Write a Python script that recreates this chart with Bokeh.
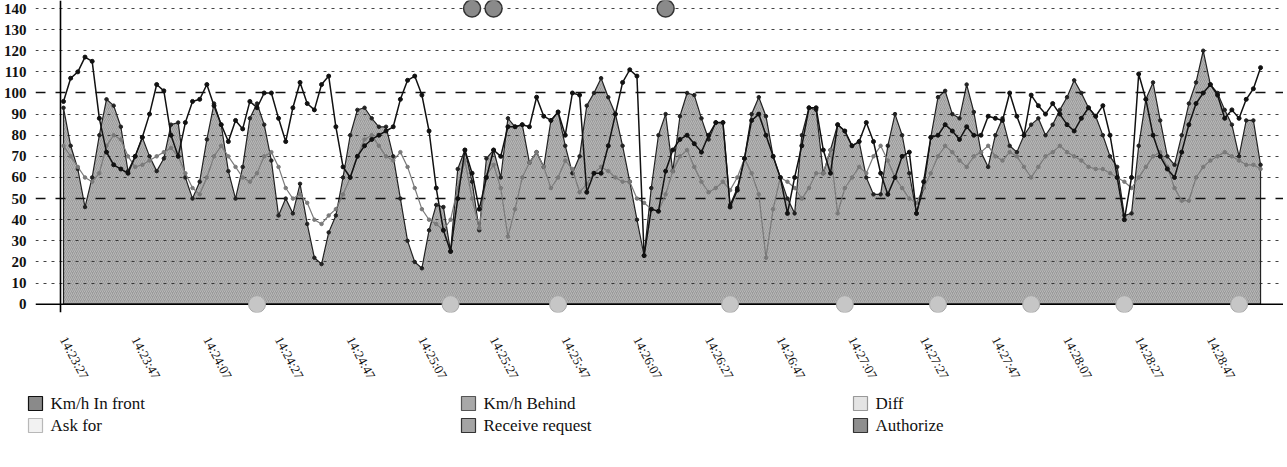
import numpy as np
from bokeh.plotting import figure
from bokeh.models import Range1d, FixedTicker, Span, Grid
from bokeh.layouts import column, row
from bokeh.embed import file_html
from bokeh.resources import INLINE
from bokeh.core.properties import value

# ---------------- data (one sample every 2 s) ----------------
time_labels = ["14:23:27", "14:23:47", "14:24:07", "14:24:27", "14:24:47", "14:25:07",
               "14:25:27", "14:25:47", "14:26:07", "14:26:27", "14:26:47", "14:27:07",
               "14:27:27", "14:27:47", "14:28:07", "14:28:27", "14:28:47"]
label_every = 10

km_front = [93, 75, 64, 46, 60, 80, 97, 94, 84, 63,
            70, 79, 70, 63, 69, 85, 86, 60, 50, 58,
            78, 95, 85, 63, 50, 65, 88, 95, 85, 68,
            42, 50, 43, 57, 38, 22, 19, 34, 42, 60,
            80, 92, 93, 88, 84, 84, 70, 50, 30, 20,
            17, 35, 47, 46, 25, 64, 73, 58, 35, 69,
            73, 60, 88, 84, 85, 67, 72, 65, 87, 91,
            75, 62, 70, 94, 100, 107, 98, 90, 75, 58,
            40, 23, 55, 80, 90, 63, 89, 100, 99, 88,
            78, 86, 86, 47, 55, 69, 90, 98, 89, 70,
            60, 50, 43, 80, 93, 92, 62, 73, 85, 82,
            75, 77, 60, 52, 52, 75, 90, 80, 62, 43,
            55, 79, 98, 101, 90, 88, 104, 91, 72, 65,
            80, 88, 75, 72, 80, 85, 88, 80, 85, 92,
            98, 106, 100, 93, 89, 80, 70, 65, 42, 43,
            75, 97, 105, 87, 70, 66, 80, 95, 105, 120,
            104, 100, 92, 85, 70, 87, 87, 66]

km_behind = [96, 107, 110, 117, 115, 88, 72, 66, 64, 62,
             70, 79, 90, 104, 101, 80, 70, 86, 96, 97,
             104, 94, 85, 77, 87, 83, 96, 93, 100, 100,
             88, 77, 93, 105, 95, 92, 104, 108, 84, 65,
             60, 70, 75, 78, 80, 82, 84, 97, 106, 108,
             99, 82, 55, 35, 25, 50, 73, 62, 45, 60,
             73, 70, 84, 84, 85, 84, 98, 89, 87, 91,
             80, 100, 99, 53, 62, 62, 75, 90, 105, 111,
             108, 23, 45, 44, 63, 73, 78, 80, 76, 72,
             80, 86, 86, 46, 54, 69, 87, 90, 80, 70,
             60, 43, 60, 75, 93, 93, 73, 62, 85, 82,
             75, 77, 86, 77, 62, 52, 60, 70, 72, 43,
             58, 79, 80, 85, 82, 78, 84, 80, 80, 89,
             88, 87, 100, 89, 80, 99, 94, 90, 95, 90,
             85, 82, 88, 93, 89, 94, 80, 60, 40, 60,
             109, 97, 80, 70, 64, 60, 72, 85, 95, 100,
             104, 99, 88, 92, 88, 97, 102, 112]

diff = [75, 70, 65, 60, 58, 62, 75, 80, 78, 70,
        65, 66, 68, 70, 72, 74, 70, 62, 55, 52,
        60, 70, 75, 70, 65, 60, 58, 62, 70, 72,
        65, 55, 50, 52, 48, 40, 38, 42, 45, 52,
        60, 70, 78, 80, 75, 70, 68, 72, 65, 55,
        45, 40, 38, 35, 40, 55, 68, 50, 36, 61,
        66, 55, 32, 45, 60, 67, 72, 65, 55, 60,
        68, 64, 53, 57, 62, 65, 63, 60, 58, 58,
        50, 48, 45, 44, 52, 63, 70, 73, 65, 58,
        53, 55, 58, 54, 60, 69, 62, 52, 22, 45,
        60, 58, 55, 50, 55, 62, 62, 73, 43, 55,
        60, 65, 62, 70, 75, 68, 60, 55, 50, 48,
        55, 62, 70, 75, 72, 68, 65, 70, 72, 75,
        70, 68, 72, 70, 65, 60, 65, 70, 72, 75,
        72, 70, 68, 65, 64, 64, 62, 60, 58, 55,
        60, 65, 70, 72, 65, 55, 49, 49, 60, 65,
        68, 70, 72, 70, 68, 66, 66, 64]

ask_for_at = [27, 54, 69, 93, 109, 122, 135, 148, 164]
ask_for_level = 0
authorize_at = [57, 60, 84]
authorize_level = 140

y_ticks = list(range(0, 141, 10))

legend_names = ["Km/h In front", "Km/h Behind", "Diff",
                "Ask for", "Receive request", "Authorize"]
legend_fill = ["#8a8a8a", "#a8a8a8", "#e4e4e4", "#f2f2f2", "#a4a4a4", "#8e8e8e"]
legend_line = ["#111111", "#555555", "#999999", "#b8b8b8", "#333333", "#333333"]

# ---------------- main chart ----------------
SERIF = "Liberation Serif"
n = len(km_front)
idx = list(range(n))

px_per_pt = 7.168
frame_w, frame_h = 1248, 312
x_start = -28 / px_per_pt
x_end = x_start + frame_w / px_per_pt
px_per_unit = (311.7 - 16) / 140
y_end = 140 + 8 / px_per_unit
y_start = -(320 - 311.7) / px_per_unit
axis_x = -3 / px_per_pt

p = figure(frame_width=frame_w, frame_height=frame_h,
           x_range=Range1d(x_start, x_end), y_range=Range1d(y_start, y_end),
           output_backend="svg", toolbar_location=None,
           min_border_left=27, min_border_right=0, min_border_top=0,
           min_border_bottom=73)
p.outline_line_color = None
p.xgrid.visible = False
p.ygrid.visible = False

# area series
xs = idx + [idx[-1], idx[0]]
ys = km_front + [0, 0]
area = p.patch(xs, ys, fill_color="#9a9a9a", line_color="#222222", line_width=1.2,
               hatch_pattern="/", hatch_color="white", hatch_alpha=0.3,
               hatch_scale=4, hatch_weight=1, level="image")

# grid lines above the area
dotted = [t for t in y_ticks if t not in (0, 50, 100)]
g1 = Grid(dimension=1, ticker=FixedTicker(ticks=dotted), grid_line_color="#222222",
          grid_line_dash="3 5", grid_line_width=1, grid_line_alpha=0.85, level="underlay")
g2 = Grid(dimension=1, ticker=FixedTicker(ticks=[50, 100]), grid_line_color="#111111",
          grid_line_dash="10 10", grid_line_width=1.4, level="underlay")
p.add_layout(g1)
p.add_layout(g2)

p.add_layout(Span(location=0, dimension="width", line_color="black", line_width=1.6, level="underlay"))
p.add_layout(Span(location=axis_x, dimension="height", line_color="black", line_width=1.6, level="underlay"))

p.scatter(idx, km_front, size=3.5, color="#222222")
p.line(idx, diff, line_color="#7a7a7a", line_width=1.2)
p.scatter(idx, diff, size=3.5, color="#7a7a7a")
p.line(idx, km_behind, line_color="#111111", line_width=1.5)
p.scatter(idx, km_behind, size=4, color="#111111")

p.scatter(ask_for_at, [ask_for_level] * len(ask_for_at), size=17,
          fill_color="#c6c6c6", line_color="#a8a8a8", line_width=1)
p.scatter(authorize_at, [authorize_level] * len(authorize_at), size=17,
          fill_color="#8a8a8a", line_color="#333333", line_width=1.5)

# axes
tick_pos = [i * label_every for i in range(len(time_labels))]
p.xaxis.ticker = FixedTicker(ticks=tick_pos)
p.xaxis.major_label_overrides = {t: l for t, l in zip(tick_pos, time_labels)}
p.xaxis.major_label_orientation = -1.08
p.xaxis.axis_line_color = None
p.xaxis.major_tick_line_color = None
p.xaxis.minor_tick_line_color = None
p.xaxis.major_label_standoff = 19
p.xaxis.major_label_text_font = SERIF
p.xaxis.major_label_text_font_size = "13px"
p.xaxis.major_label_text_color = "#111111"

p.yaxis.ticker = FixedTicker(ticks=y_ticks)
p.yaxis.axis_line_color = None
p.yaxis.major_tick_line_color = None
p.yaxis.minor_tick_line_color = None
p.yaxis.major_label_standoff = 3
p.yaxis.major_label_text_font = SERIF
p.yaxis.major_label_text_font_size = "15px"
p.yaxis.major_label_text_font_style = "bold"
p.yaxis.major_label_text_color = "#111111"

# ---------------- legend (separate strip) ----------------
leg_w, leg_h = 1279, 52
leg = figure(width=leg_w, height=leg_h, x_range=Range1d(0, leg_w), y_range=Range1d(leg_h, 0),
             output_backend="svg", toolbar_location=None, min_border=0,
             x_axis_location=None, y_axis_location=None)
leg.grid.visible = False
leg.outline_line_color = None
col_x = [28, 461, 853]
row_y = [15, 37]
sx = [col_x[i % 3] + 7 for i in range(len(legend_names))]
sy = [row_y[i // 3] for i in range(len(legend_names))]
leg.rect(sx, sy, width=14, height=14, fill_color=legend_fill, line_color=legend_line, line_width=1.2)
leg.text([x + 15 for x in sx], sy, text=legend_names, text_font=value(SERIF),
         text_font_size="17px", text_baseline="middle", text_color="#111111")

layout = column(p, row(leg, spacing=0), spacing=0)
open("out.html", "w").write(file_html(layout, INLINE))
